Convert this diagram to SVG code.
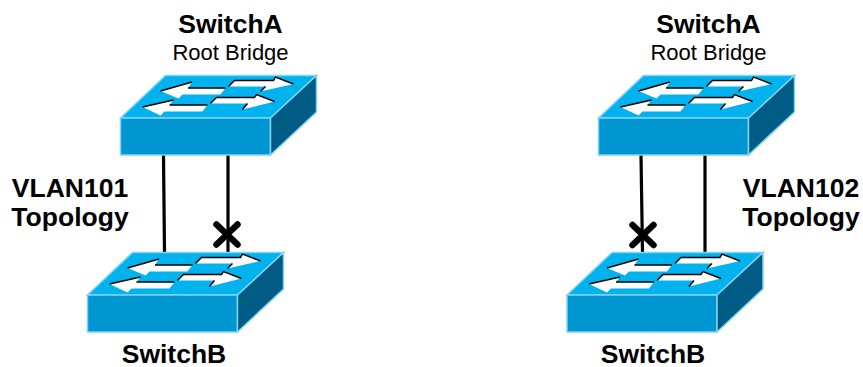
<svg xmlns="http://www.w3.org/2000/svg" width="863" height="367" viewBox="0 0 863 367">
<style>
text{font-family:"Liberation Sans",Arial,sans-serif;fill:#000;text-anchor:middle}
.b{font-weight:700}
.t{font-size:26.5px}
.r{font-size:22px}
.v{font-size:26.5px}
.link{stroke:#000;stroke-width:3.2;fill:none}
.x{stroke:#000;stroke-width:6.5;stroke-linecap:round;fill:none}
.ar{fill:#fff}
.sh{fill:none;stroke:#000;stroke-width:1.4}
</style>
<defs>
<g id="sw">
<polygon points="0,42.5 45,0 196,0 150,42.5" fill="#00b2ee" stroke="#80d4f4" stroke-width="1.5"/>
<polygon points="0,42.5 150,42.5 150,79.5 0,79.5" fill="#0096d2" stroke="#80d4f4" stroke-width="1.5"/>
<polygon points="150,42.5 196,0 196,36.5 150,79.5" fill="#005c84" stroke="#80d4f4" stroke-width="1.5"/>
<polygon class="ar" points="40,15.500 71.500,6.500 67.500,12.500 105,12.500 100,19 62,19 58,23"/>
<polyline class="sh" points="40,15.500 71.500,6.500"/><polyline class="sh" points="67.500,12.500 105,12.500"/>
<polygon class="ar" points="22,31.500 53,24.500 49,29.500 87,29.500 82,36 44,36 40,40"/>
<polyline class="sh" points="22,31.500 53,24.500"/><polyline class="sh" points="49,29.500 87,29.500"/>
<polygon class="ar" points="114,5 153,5 155,1.500 173,8.500 140,16 145,11 108,11"/>
<polyline class="sh" points="108,11 114,5 153,5 155,1.500 173,8.500"/><polyline class="sh" points="140,16 145,11"/>
<polygon class="ar" points="96,22 134,22 136,19 154,26 122,34 127,28 90,28"/>
<polyline class="sh" points="90,28 96,22 134,22 136,19 154,26"/><polyline class="sh" points="122,34 127,28"/>
</g>
</defs>
<g id="connectors">
<line class="link" x1="163.500" y1="155" x2="164.500" y2="253"/>
<line class="link" x1="228" y1="155" x2="228" y2="253"/>
<line class="link" x1="641" y1="155" x2="642.500" y2="253"/>
<line class="link" x1="705" y1="155" x2="705" y2="253"/>
<path class="x" d="M216.500,224.500L237.500,244.500M237.500,224.500L216.500,244.500"/>
<path class="x" d="M632.500,225L653.500,245M653.500,225L632.500,245"/>
</g>
<g id="switchA-left"><use href="#sw" x="120.500" y="75.500"/>
<text class="b t" x="230.500" y="33">SwitchA</text><text class="r" x="230.500" y="60">Root Bridge</text></g>
<g id="switchB-left"><use href="#sw" x="87.500" y="252.500"/>
<text class="b t" x="174" y="363">SwitchB</text></g>
<g id="switchA-right"><use href="#sw" x="598.500" y="75.500"/>
<text class="b t" x="708.500" y="33">SwitchA</text><text class="r" x="708.500" y="60">Root Bridge</text></g>
<g id="switchB-right"><use href="#sw" x="567" y="252.500"/>
<text class="b t" x="653" y="363">SwitchB</text></g>
<g id="label-vlan101"><text class="b v" x="70" y="197">VLAN101</text><text class="b v" x="70" y="226">Topology</text></g>
<g id="label-vlan102"><text class="b v" x="801" y="197">VLAN102</text><text class="b v" x="801" y="226">Topology</text></g>
</svg>
